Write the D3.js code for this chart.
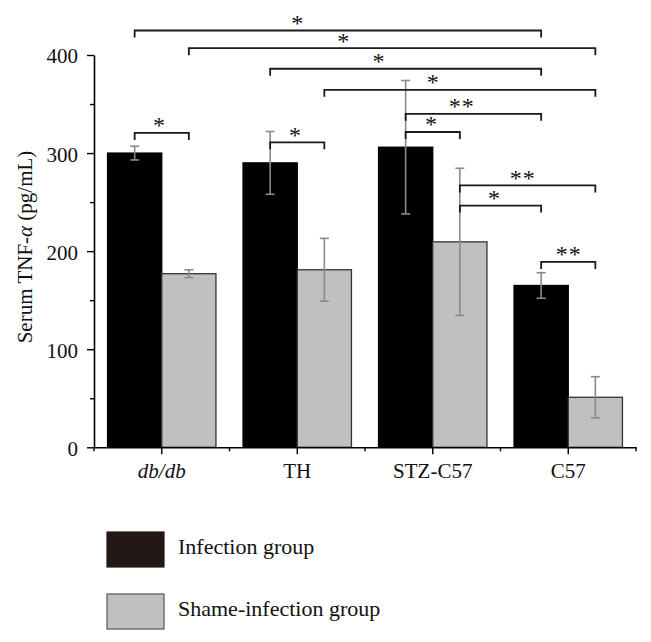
<!DOCTYPE html>
<html>
<head>
<meta charset="utf-8">
<script src="https://cdn.jsdelivr.net/npm/d3@7"></script>
<style>
  html, body { margin: 0; padding: 0; background: #fff; }
  svg { display: block; }
  text { font-family: "Liberation Serif", "DejaVu Serif", serif; fill: #111; }
</style>
</head>
<body>
<div id="chart"></div>
<script>
// ---------- data ----------
const categories = ["db/db", "TH", "STZ-C57", "C57"];
const seriesNames = ["Infection group", "Shame-infection group"];
const infectionValues = [300, 290, 306, 165];
const infectionErrors = [7, 32, 68, 13];
const shamValues = [177, 181, 209.5, 51];
const shamErrors = [4, 32, 75, 21];
const yTicks = [0, 100, 200, 300, 400];
const yMinorTicks = [50, 150, 250, 350];
// significance brackets: [category index, series index] endpoints, level (y units), label, label position along bracket
const bracketFrom = [[0,0],[0,1],[1,0],[1,1],[2,0],[2,0],[2,1],[2,1],[3,0],[0,0],[1,0]];
const bracketTo   = [[3,0],[3,1],[3,0],[3,1],[3,0],[2,1],[3,1],[3,0],[3,1],[0,1],[1,1]];
const bracketLevels = [425, 407, 386, 364.5, 340, 321.5, 267, 246.5, 189, 320.5, 311];
const bracketLabels = ["*", "*", "*", "*", "**", "*", "**", "*", "**", "*", "*"];
const bracketLabelPos = [0.40, 0.38, 0.40, 0.40, 0.41, 0.47, 0.46, 0.42, 0.50, 0.45, 0.46];

const seriesValues = [infectionValues, shamValues];
const seriesErrors = [infectionErrors, shamErrors];
const seriesColors = ["#000000", "#c0c0c0"];
const legendColors = ["#231815", "#c0c0c0"];

// ---------- layout ----------
const W = 651, H = 642;
const svg = d3.select("#chart").append("svg").attr("width", W).attr("height", H);

const x0 = d3.scaleBand().domain(categories).range([94, 636]).paddingInner(0.2).paddingOuter(0.1);
const x1 = d3.scaleBand().domain(d3.range(seriesNames.length)).range([0, x0.bandwidth()]).padding(0);
const y = d3.scaleLinear().domain([0, 400]).range([447.3, 55]);

const cx = (ci, si) => x0(categories[ci]) + x1(si) + x1.bandwidth() / 2;

// ---------- bars ----------
const barData = [];
categories.forEach((c, ci) => seriesNames.forEach((s, si) => {
  barData.push({ ci, si, v: seriesValues[si][ci], e: seriesErrors[si][ci] });
}));

svg.append("g").selectAll("rect").data(barData).join("rect")
  .attr("x", d => x0(categories[d.ci]) + x1(d.si))
  .attr("y", d => y(d.v))
  .attr("width", x1.bandwidth())
  .attr("height", d => y(0) - y(d.v))
  .attr("fill", d => seriesColors[d.si])
  .attr("stroke", d => d.si === 1 ? "#333" : "#000")
  .attr("stroke-width", 1.3);

// ---------- error bars ----------
const eg = svg.append("g").attr("stroke", "#8a8a8a").attr("stroke-width", 1.6).attr("fill", "none");
barData.forEach(d => {
  const xc = cx(d.ci, d.si);
  eg.append("line").attr("x1", xc).attr("x2", xc).attr("y1", y(d.v + d.e)).attr("y2", y(d.v - d.e));
  eg.append("line").attr("x1", xc - 4.5).attr("x2", xc + 4.5).attr("y1", y(d.v + d.e)).attr("y2", y(d.v + d.e));
  eg.append("line").attr("x1", xc - 4.5).attr("x2", xc + 4.5).attr("y1", y(d.v - d.e)).attr("y2", y(d.v - d.e));
});

// ---------- axes ----------
const fontSize = 21;
const yAxis = svg.append("g").attr("transform", "translate(94,0)")
  .call(d3.axisLeft(y).tickValues(yTicks).tickSize(7).tickSizeOuter(0).tickPadding(9));
svg.append("g").attr("transform", "translate(94,0)")
  .call(d3.axisLeft(y).tickValues(yMinorTicks).tickSize(4).tickFormat("")).select(".domain").remove();
yAxis.selectAll("text").attr("font-size", fontSize).attr("dy", "0.38em");

const xAxis = svg.append("g").attr("transform", `translate(0,${y(0)})`)
  .call(d3.axisBottom(x0).tickSize(7).tickSizeOuter(0).tickPadding(9));
xAxis.selectAll("text").attr("font-size", fontSize)
  .attr("font-style", d => d === "db/db" ? "italic" : "normal");
const step = x0.step();
const xMinor = d3.range(categories.length + 1).map(i => x0.range()[0] + i * step);
svg.append("g").selectAll("line").data(xMinor).join("line")
  .attr("x1", d => d).attr("x2", d => d)
  .attr("y1", y(0)).attr("y2", y(0) + 4)
  .attr("stroke", "#000").attr("stroke-width", 1.4);

svg.selectAll(".domain").attr("stroke", "#000").attr("stroke-width", 1.6);
svg.selectAll(".tick line").attr("stroke", "#000").attr("stroke-width", 1.4);
svg.selectAll(".tick text").attr("fill", "#111").attr("font-family", "Liberation Serif, serif");

// y axis title
const yt = svg.append("text")
  .attr("transform", "translate(31.5,247) rotate(-90)")
  .attr("text-anchor", "middle")
  .attr("font-size", fontSize);
yt.append("tspan").text("Serum TNF-");
yt.append("tspan").attr("font-style", "italic").text("α");
yt.append("tspan").text(" (pg/mL)");

// ---------- significance brackets ----------
const bg = svg.append("g");
bracketFrom.forEach((a, i) => {
  const b = bracketTo[i];
  const xa = cx(a[0], a[1]), xb = cx(b[0], b[1]);
  const yl = y(bracketLevels[i]);
  bg.append("path")
    .attr("d", `M${xa},${yl + 7}V${yl}H${xb}V${yl + 7}`)
    .attr("fill", "none").attr("stroke", "#1a1a1a").attr("stroke-width", 1.8);
  const lx = xa + (xb - xa) * bracketLabelPos[i];
  bg.append("text")
    .attr("x", lx).attr("y", yl + 0.5)
    .attr("text-anchor", "middle")
    .attr("font-size", 24)
    .attr("fill", "#222")
    .attr("letter-spacing", bracketLabels[i].length > 1 ? 1 : 0)
    .attr("dx", bracketLabels[i].length > 1 ? 0.5 : 0)
    .text(bracketLabels[i]);
});

// ---------- legend ----------
const legendY = [532, 594];
const lg = svg.append("g");
seriesNames.forEach((s, i) => {
  lg.append("rect")
    .attr("x", 107).attr("y", legendY[i])
    .attr("width", 57).attr("height", 35)
    .attr("fill", legendColors[i])
    .attr("stroke", i === 1 ? "#555" : "#231815")
    .attr("stroke-width", 1.2);
  lg.append("text")
    .attr("x", 178).attr("y", legendY[i] + 22)
    .attr("font-size", 22)
    .text(s);
});
</script>
</body>
</html>
